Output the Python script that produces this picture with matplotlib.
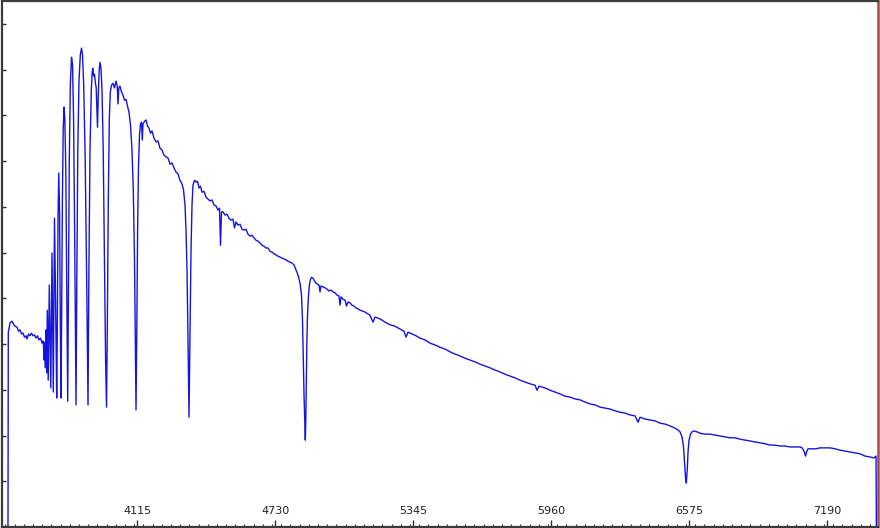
import numpy as np
import matplotlib
matplotlib.use('Agg')
from matplotlib import pyplot as plt
from matplotlib.ticker import MultipleLocator, FixedLocator

# 光谱数据 (波长 / A, 相对流量)
wavelength = [
    3537.7, 3539.1, 3546.7, 3555.6, 3562.3, 3569.0, 3577.9, 3584.6, 3591.2, 3597.9,
    3604.6, 3611.3, 3618.0, 3622.4, 3629.1, 3635.8, 3642.5, 3649.2, 3655.9, 3662.6,
    3669.3, 3675.9, 3682.6, 3689.3, 3693.8,
    3696.0, 3699.1, 3701.8, 3704.5, 3707.2, 3710.3, 3712.9, 3717.0, 3721.9, 3728.6,
    3733.9, 3739.7, 3745.0, 3749.9, 3754.9,
    3757.5, 3760.6, 3764.2, 3767.8, 3770.9, 3774.0, 3776.7, 3780.3, 3783.8, 3787.4,
    3791.0, 3795.4, 3799.9, 3803.9, 3807.0, 3811.0, 3815.5, 3820.8, 3825.3, 3830.2,
    3835.5, 3840.9, 3844.5, 3848.9, 3854.3, 3860.1, 3865.4, 3869.9, 3875.2, 3881.9,
    3889.0, 3894.4, 3898.4, 3903.3, 3909.1, 3913.1, 3915.8, 3919.4, 3923.4, 3926.9,
    3930.9, 3933.6, 3936.7, 3940.3, 3944.3, 3947.9, 3952.3, 3956.8, 3962.2, 3967.9,
    3972.8, 3976.9, 3980.4, 3984.9, 3989.3, 3993.8, 3999.2, 4005.8, 4012.5, 4019.2,
    4024.6, 4028.1, 4031.7, 4037.0, 4043.7, 4050.4, 4057.1, 4063.8, 4070.5, 4077.2,
    4083.8, 4090.5, 4096.3, 4101.7, 4105.3, 4108.4, 4111.9, 4115.5, 4119.5, 4124.0,
    4128.4, 4132.9, 4136.5, 4139.6, 4146.3, 4153.0, 4159.6, 4166.3, 4173.0, 4179.7,
    4188.6, 4197.5, 4206.4, 4215.4, 4224.3, 4233.2, 4242.1, 4251.0, 4259.9, 4268.9,
    4277.8, 4286.7, 4295.6, 4304.5, 4313.4, 4320.1, 4326.8, 4331.3, 4335.7, 4340.2,
    4344.6, 4349.1, 4353.6, 4358.0, 4362.5, 4369.2, 4375.9, 4382.5, 4389.2, 4395.9,
    4402.6, 4411.5, 4420.4, 4429.3, 4438.3, 4447.2, 4456.1, 4465.0, 4473.9, 4480.6,
    4485.1, 4489.5, 4496.2, 4505.1, 4514.1, 4523.0, 4531.9, 4540.8, 4547.5, 4554.2,
    4563.1, 4572.0, 4580.9, 4589.8, 4598.8, 4607.7, 4616.6, 4625.5, 4634.4, 4643.3,
    4652.2, 4661.2, 4670.1, 4679.0, 4687.9, 4696.8, 4705.7, 4714.7, 4723.6, 4732.5,
    4741.4, 4750.3, 4759.2, 4768.2, 4777.1, 4786.0, 4794.9, 4803.8, 4812.7, 4821.7,
    4830.6, 4839.5, 4846.2, 4850.6, 4854.2, 4857.3, 4860.9, 4863.1, 4865.3, 4867.6,
    4869.8, 4872.9, 4877.4, 4881.8, 4886.3, 4891.6, 4897.4, 4904.1, 4910.8, 4917.5,
    4924.2, 4928.6, 4933.1, 4942.0, 4950.9, 4959.9, 4968.8, 4977.7, 4986.6, 4995.5,
    5004.4, 5013.3, 5017.8, 5022.3, 5031.2, 5040.1, 5046.8, 5053.5, 5062.4, 5071.3,
    5080.2, 5089.1, 5098.0, 5107.0, 5129.3, 5151.5, 5164.9, 5173.8, 5196.1, 5218.4,
    5240.7, 5263.0, 5285.3, 5303.1, 5312.0, 5320.9, 5338.8, 5356.6, 5374.4, 5396.7,
    5419.0, 5441.3, 5463.6, 5485.9, 5508.2, 5530.5, 5552.8, 5575.1, 5597.3, 5619.6,
    5641.9, 5664.2, 5686.5, 5708.8, 5731.1, 5753.4, 5775.7, 5798.0, 5820.2, 5842.5,
    5864.8, 5887.1, 5896.0, 5904.9, 5931.7, 5954.0, 5976.3, 5998.6, 6020.9, 6043.1,
    6065.4, 6087.7, 6110.0, 6132.3, 6154.6, 6176.9, 6199.2, 6221.5, 6243.8, 6266.0,
    6288.3, 6310.6, 6332.9, 6346.3, 6355.2, 6377.5, 6399.8, 6422.1, 6444.4, 6466.7,
    6488.9, 6511.2, 6524.6, 6533.5, 6542.4, 6549.1, 6553.6, 6558.0, 6561.6, 6565.6,
    6569.2, 6573.6, 6580.3, 6587.0, 6595.9, 6609.3, 6622.7, 6645.0, 6667.3, 6689.6,
    6711.8, 6734.1, 6756.4, 6778.7, 6801.0, 6823.3, 6845.6, 6867.9, 6890.2, 6912.5,
    6934.7, 6957.0, 6979.3, 7001.6, 7023.9, 7046.2, 7068.5, 7077.4, 7086.3, 7093.0,
    7097.5, 7104.1, 7122.0, 7139.8, 7157.6, 7179.9, 7202.2, 7224.5, 7246.8, 7269.1,
    7291.4, 7313.7, 7336.0, 7358.3, 7380.5, 7398.4, 7407.3, 7408.6,
]
flux = [
    0.00, 4.26, 4.46, 4.50, 4.44, 4.39, 4.37, 4.28, 4.31, 4.22,
    4.24, 4.15, 4.18, 4.11, 4.22, 4.18, 4.24, 4.18, 4.20, 4.13,
    4.18, 4.09, 4.13, 4.02, 4.07,
    3.98, 3.65, 4.04, 3.48, 4.31, 3.37, 4.74, 3.21, 5.29, 3.04,
    5.99, 2.95, 6.75, 4.96, 2.82,
    4.31, 6.71, 7.74, 6.82, 4.52, 2.82, 4.52, 7.15, 8.68, 9.18,
    8.94, 7.80, 5.18, 2.75, 4.96, 8.02, 9.66, 10.27, 10.12, 8.90,
    6.05, 2.67, 5.40, 8.24, 9.77, 10.32, 10.47, 10.32, 9.66, 8.02,
    5.18, 2.67, 5.62, 8.24, 9.55, 9.95, 10.03, 9.86, 9.90, 9.73,
    9.60, 9.22, 8.74, 9.44, 9.99, 10.16, 10.03, 9.55, 8.24, 5.84,
    3.65, 2.62, 4.31, 7.15, 8.90, 9.51, 9.66, 9.70, 9.60, 9.75,
    9.64, 9.25, 9.60, 9.64, 9.51, 9.44, 9.33, 9.35, 9.20, 9.07,
    8.79, 8.24, 7.37, 5.84, 4.09, 2.56, 4.31, 6.49, 7.91, 8.57,
    8.81, 8.85, 8.46, 8.81, 8.87, 8.90, 8.77, 8.72, 8.61, 8.66,
    8.50, 8.42, 8.44, 8.28, 8.24, 8.13, 8.09, 8.07, 7.93, 7.96,
    7.85, 7.76, 7.72, 7.58, 7.50, 7.37, 7.04, 6.49, 5.62, 4.09,
    2.40, 4.31, 6.05, 7.04, 7.48, 7.58, 7.54, 7.56, 7.41, 7.45,
    7.32, 7.34, 7.21, 7.17, 7.13, 7.15, 7.04, 7.02, 6.93, 6.97,
    6.16, 6.89, 6.89, 6.82, 6.84, 6.75, 6.71, 6.73, 6.54, 6.67,
    6.60, 6.62, 6.51, 6.49, 6.51, 6.40, 6.36, 6.38, 6.32, 6.27,
    6.25, 6.21, 6.16, 6.14, 6.10, 6.10, 6.03, 6.01, 5.97, 5.95,
    5.92, 5.90, 5.88, 5.86, 5.84, 5.81, 5.79, 5.77, 5.73, 5.62,
    5.51, 5.33, 5.07, 4.52, 3.65, 2.89, 2.23, 1.90, 2.34, 3.21,
    3.98, 4.63, 5.07, 5.31, 5.42, 5.46, 5.44, 5.38, 5.33, 5.31,
    5.29, 5.14, 5.27, 5.25, 5.23, 5.20, 5.16, 5.18, 5.14, 5.12,
    5.07, 5.05, 4.85, 5.03, 4.98, 4.96, 4.83, 4.92, 4.90, 4.85,
    4.83, 4.79, 4.77, 4.74, 4.70, 4.63, 4.48, 4.59, 4.55, 4.48,
    4.42, 4.39, 4.33, 4.28, 4.15, 4.26, 4.22, 4.18, 4.13, 4.09,
    4.02, 3.98, 3.93, 3.89, 3.83, 3.78, 3.74, 3.69, 3.65, 3.61,
    3.56, 3.52, 3.48, 3.43, 3.39, 3.34, 3.30, 3.26, 3.21, 3.17,
    3.13, 3.10, 2.99, 3.08, 3.04, 2.99, 2.95, 2.91, 2.86, 2.84,
    2.80, 2.78, 2.73, 2.69, 2.67, 2.62, 2.60, 2.58, 2.54, 2.51,
    2.49, 2.45, 2.43, 2.29, 2.40, 2.36, 2.34, 2.32, 2.27, 2.25,
    2.21, 2.16, 2.12, 2.08, 1.97, 1.75, 1.42, 1.07, 0.96, 1.25,
    1.64, 1.90, 2.03, 2.08, 2.10, 2.08, 2.05, 2.03, 2.03, 2.01,
    1.99, 1.97, 1.95, 1.95, 1.92, 1.90, 1.88, 1.86, 1.84, 1.82,
    1.79, 1.79, 1.77, 1.77, 1.75, 1.75, 1.75, 1.73, 1.66, 1.55,
    1.64, 1.71, 1.71, 1.71, 1.73, 1.73, 1.73, 1.71, 1.68, 1.66,
    1.64, 1.62, 1.60, 1.55, 1.53, 1.51, 1.55, 0.00,
]

x_ticks = [4115, 4730, 5345, 5960, 6575, 7190]
x_range = (3511, 7416)
y_range = (0, 11.5)

fig = plt.figure(figsize=(8.8, 5.28), dpi=100)
ax = fig.add_axes([2 / 880, 1 / 528, 876 / 880, 526 / 528])

ax.plot(wavelength, flux, color='#1515dd', lw=1.0)

ax.set_xlim(*x_range)
ax.set_ylim(*y_range)

# 横轴刻度: 标签画在框内
ax.xaxis.set_major_locator(FixedLocator(x_ticks))
ax.xaxis.set_minor_locator(MultipleLocator(41))
ax.set_xticklabels([str(t) for t in x_ticks])
ax.tick_params(axis='x', which='major', direction='in', length=5, width=1,
               color='#303030', labelsize=8, labelcolor='#222222', pad=-15)
ax.tick_params(axis='x', which='minor', direction='in', length=2.5, width=0.8,
               color='#303030')

# 纵轴只有刻度没有数字
ax.yaxis.set_major_locator(MultipleLocator(1))
ax.tick_params(axis='y', which='major', direction='in', length=3, width=1,
               color='#303030', labelleft=False)

for side in ['left', 'top', 'bottom']:
    ax.spines[side].set_color('#3a3a3a')
    ax.spines[side].set_linewidth(1.6)
ax.spines['right'].set_color('#a04848')
ax.spines['right'].set_linewidth(1.8)

plt.savefig('out.png', dpi=100)
plt.close()
